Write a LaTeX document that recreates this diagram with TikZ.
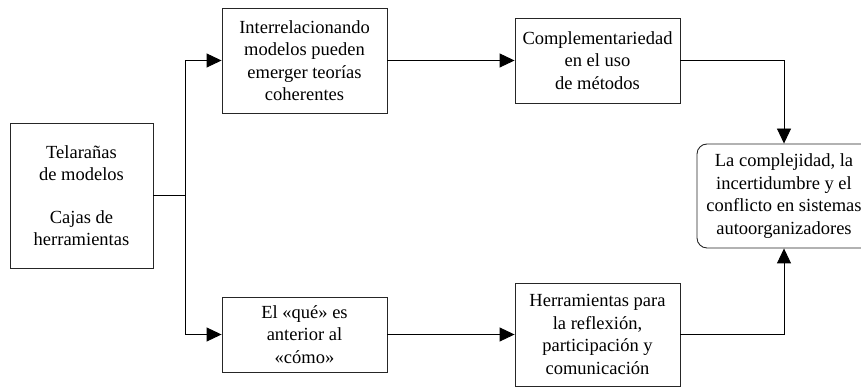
\documentclass[tikz,border=0pt]{standalone}
\usepackage{fontspec}
\setmainfont{Liberation Serif}
\newfontfamily\boxfont{Liberation Serif}
\usetikzlibrary{arrows.meta}
\begin{document}
\begin{tikzpicture}[x=1pt,y=1pt,
  box/.style={draw=black!85, line width=0.9pt, align=center, inner sep=0pt,
    font=\boxfont\fontsize{18.5}{22.5}\selectfont},
  arr/.style={line width=0.9pt, -{Triangle[length=15pt,width=14pt]}},
  conn/.style={line width=0.9pt}]
\useasboundingbox (0,0) rectangle (861,387);
\node[box, minimum width=143pt, minimum height=145pt] (L) at (81.5,191.5)
  {Telarañas\\de modelos\\[20pt]Cajas de\\herramientas};
\node[box, minimum width=165pt, minimum height=105pt] (T1) at (304.5,326.5)
  {Interrelacionando\\modelos pueden\\emerger teorías\\coherentes};
\node[box, minimum width=165pt, minimum height=85pt] (T2) at (597.5,326.5)
  {Complementariedad\\en el uso\\de métodos};
\node[box, minimum width=165pt, minimum height=75pt] (B1) at (304.5,52.5)
  {El «qué» es\\anterior al\\«cómo»};
\node[box, minimum width=165pt, minimum height=103pt] (B2) at (597.5,52.5)
  {Herramientas para\\la reflexión,\\participación y\\comunicación};
\node[box, rounded corners=10pt, minimum width=174pt, minimum height=104pt] (R) at (784,191)
  {La complejidad, la\\incertidumbre y el\\conflicto en sistemas\\autoorganizadores};
\coordinate (j) at (185,191.5);
\draw[conn] (L.east |- j) -- (j);
\draw[arr] (j) |- (T1.west);
\draw[arr] (j) |- (B1.west);
\draw[arr] (T1.east) -- (T2.west);
\draw[arr] (B1.east) -- (B1.east -| B2.west);
\draw[arr] (T2.east) -| (R.north);
\draw[arr] (B2.east) -| (R.south);
\end{tikzpicture}
\end{document}
